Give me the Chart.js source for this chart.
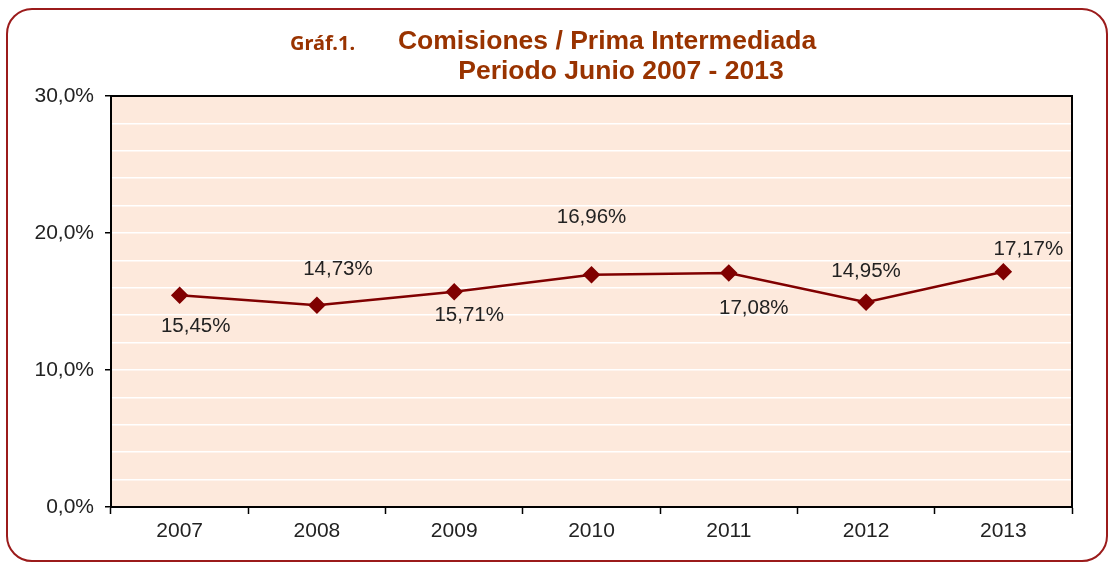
<!DOCTYPE html>
<html>
<head>
<meta charset="utf-8">
<script src="https://cdn.jsdelivr.net/npm/chart.js@4"></script>
<style>
  html, body { margin: 0; padding: 0; background: #fff; }
  #wrap { position: relative; width: 1109px; height: 562px; }
  #frame {
    position: absolute; left: 6px; top: 8px; width: 1098px; height: 550px;
    border: 2.5px solid #9b1b1b; border-radius: 26px; pointer-events: none;
  }
</style>
</head>
<body>
<div id="wrap">
  <canvas id="myChart" width="1109" height="562"></canvas>
  <div id="frame"></div>
</div>
<script>
var years = ["2007", "2008", "2009", "2010", "2011", "2012", "2013"];
var comisiones = [15.45, 14.73, 15.71, 16.96, 17.08, 14.95, 17.17];
var yTicks = [0, 10, 20, 30];

// where each value label sits relative to its point (dx, dy in px)
var labelOffsets = [[16, 31], [21, -36], [15, 24], [0, -57], [25, 35], [0, -31], [25, -22]];

function pct(v, d) {
  return v.toFixed(d).replace(".", ",") + "%";
}

var frameAndLabels = {
  id: "frameAndLabels",
  beforeDraw: function (chart) {
    var a = chart.chartArea, c = chart.ctx;
    c.save();
    c.fillStyle = "#fde9dc";
    c.fillRect(a.left, a.top, a.right - a.left, a.bottom - a.top);
    c.restore();
  },
  afterDraw: function (chart) {
    var a = chart.chartArea, c = chart.ctx;
    c.save();
    c.strokeStyle = "#000";
    c.lineWidth = 2;
    c.strokeRect(a.left, a.top, a.right - a.left, a.bottom - a.top);

    // title
    c.fillStyle = "#993300";
    c.textBaseline = "middle";
    c.textAlign = "left";
    c.font = "bold 20px 'Noto Sans'";
    c.fillText("Gráf.1.", 290, 44);
    c.textAlign = "center";
    c.font = "bold 26.5px 'Liberation Sans'";
    c.fillText("Comisiones / Prima Intermediada", 607, 42);
    c.fillText("Periodo Junio 2007 - 2013", 621, 72);

    // value labels
    var meta = chart.getDatasetMeta(0);
    c.fillStyle = "#222";
    c.font = "20.5px 'Liberation Sans'";
    meta.data.forEach(function (pt, i) {
      var o = labelOffsets[i];
      c.fillText(pct(comisiones[i], 2), pt.x + o[0], pt.y + o[1]);
    });
    c.restore();
  }
};

var config = {
  type: "line",
  data: {
    labels: years,
    datasets: [{
      label: "Comisiones / Prima Intermediada",
      data: comisiones,
      borderColor: "#800000",
      backgroundColor: "#800000",
      borderWidth: 2.5,
      pointStyle: "rectRot",
      pointRadius: 7,
      pointHoverRadius: 7,
      tension: 0
    }]
  },
  options: {
    responsive: false,
    animation: false,
    layout: { padding: { top: 96, right: 37, left: 0, bottom: 0 } },
    plugins: {
      legend: { display: false },
      tooltip: { enabled: false }
    },
    scales: {
      x: {
        offset: true,
        grid: {
          offset: true,
          drawOnChartArea: false,
          tickColor: "#000",
          tickLength: 7,
          tickWidth: 1.5
        },
        border: { color: "#000", width: 2 },
        ticks: { autoSkip: false, color: "#222", font: { family: "'Liberation Sans'", size: 21 }, padding: 5 },
        afterFit: function (s) { s.height = 55; }
      },
      y: {
        min: 0,
        max: 30,
        grid: {
          color: "#ffffff",
          lineWidth: 1.5,
          tickLength: 6,
          tickColor: function (ctx) {
            return yTicks.indexOf(ctx.tick.value) >= 0 ? "#000" : "rgba(0,0,0,0)";
          }
        },
        border: { color: "#000", width: 2 },
        ticks: {
          stepSize: 2,
          autoSkip: false,
          color: "#222",
          font: { family: "'Liberation Sans'", size: 21 },
          padding: 11,
          callback: function (v) {
            return yTicks.indexOf(v) >= 0 ? pct(v, 1) : "";
          }
        },
        afterFit: function (s) { s.width = 111; }
      }
    }
  },
  plugins: [frameAndLabels]
};

var myChart = new Chart(document.getElementById("myChart"), config);
</script>
</body>
</html>
